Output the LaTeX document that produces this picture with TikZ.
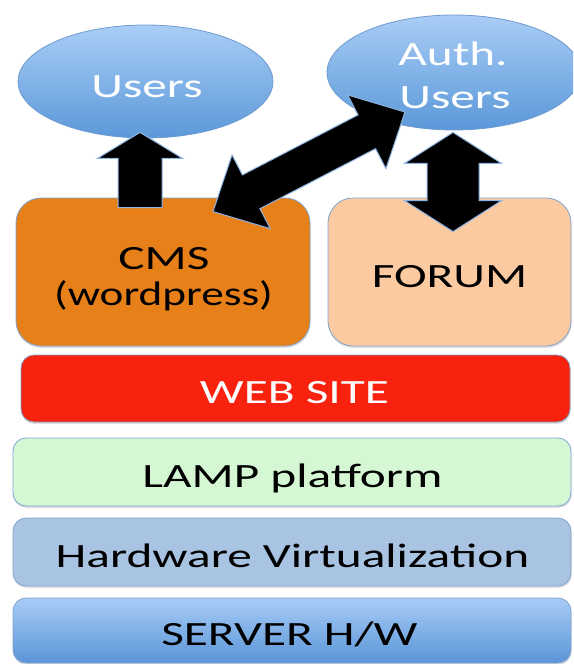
\documentclass[tikz,border=0pt]{standalone}
\usepackage{fontspec}
\usepackage{graphicx}
\setmainfont{Carlito}
\usetikzlibrary{shapes.geometric,calc,shadows}
\definecolor{ellTop}{HTML}{A9CDF6}
\definecolor{ellBot}{HTML}{5B98D9}
\definecolor{ellLine}{HTML}{6E9BD0}
\definecolor{boxLine}{HTML}{7FA3CE}
\definecolor{cmsFill}{HTML}{E8801A}
\definecolor{forumFill}{HTML}{FBCAA0}
\definecolor{webFill}{HTML}{F8220F}
\definecolor{lampFill}{HTML}{D5F7D3}
\definecolor{hwFill}{HTML}{A9C3E2}
\definecolor{srvTop}{HTML}{A8CCF7}
\definecolor{srvBot}{HTML}{5A95D7}
\definecolor{arrowLine}{HTML}{8DB4E2}
\newcommand{\sx}[1]{\scalebox{1.45}[1]{#1}}
% single block arrow: #1 tail, #2 tip, #3 head length, #4 head half width, #5 shaft half width
\newcommand{\singleblockarrow}[5]{%
  \coordinate (#2-hb) at ($(#2)!#3!(#1)$);
  \filldraw[blockarrow] (#2) -- ($(#2-hb)!#4!90:(#2)$) -- ($(#2-hb)!#5!90:(#2)$)
    -- ($(#1)!#5!90:(#2)$) -- ($(#1)!#5!-90:(#2)$) -- ($(#2-hb)!#5!-90:(#2)$)
    -- ($(#2-hb)!#4!-90:(#2)$) -- cycle;}
% double block arrow: #1 end A, #2 end B
\newcommand{\doubleblockarrow}[5]{%
  \coordinate (#1-hb) at ($(#1)!#3!(#2)$);
  \coordinate (#2-hb) at ($(#2)!#3!(#1)$);
  \filldraw[blockarrow] (#2) -- ($(#2-hb)!#4!90:(#2)$) -- ($(#2-hb)!#5!90:(#2)$)
    -- ($(#1-hb)!#5!90:(#2)$) -- ($(#1-hb)!#4!90:(#2)$) -- (#1)
    -- ($(#1-hb)!#4!-90:(#2)$) -- ($(#1-hb)!#5!-90:(#2)$) -- ($(#2-hb)!#5!-90:(#2)$)
    -- ($(#2-hb)!#4!-90:(#2)$) -- cycle;}

\begin{document}
\begin{tikzpicture}[x=1pt,y=-1pt,
  ell/.style={ellipse, draw=ellLine, line width=0.8pt, top color=ellTop, bottom color=ellBot, inner sep=0pt},
  box/.style={rectangle, draw=boxLine, line width=0.8pt, inner sep=0pt,
    drop shadow={opacity=0.25, shadow xshift=0.5pt, shadow yshift=-2pt}},
  bigbox/.style={box, rounded corners=25pt, minimum height=148pt},
  layer/.style={box, rounded corners=13pt, minimum width=558pt},
  txt/.style={anchor=base, inner sep=0pt, font=\fontsize{34}{40}\selectfont},
  blockarrow/.style={fill=black, draw=arrowLine, line width=1pt, line join=miter}]

\useasboundingbox (0,0) rectangle (573,664);
\clip (0,0) rectangle (573,664);

% ellipses
\node[ell, minimum width=255pt, minimum height=113pt] (users) at (145.5,81.5) {};
\node[ell, minimum width=254pt, minimum height=115pt] (auth) at (454,72.5) {};

% boxes
\node[bigbox, fill=cmsFill, minimum width=294pt] (cms) at (163,272) {};
\node[bigbox, fill=forumFill, minimum width=243pt] (forum) at (449.5,272) {};
\node[box, rounded corners=13pt, fill=webFill, minimum width=549pt, minimum height=67pt] (web) at (295.5,388.5) {};
\node[layer, fill=lampFill, minimum height=68pt] (lamp) at (292,472) {};
\node[layer, fill=hwFill, minimum height=68pt] (hw) at (292,552) {};
\node[layer, top color=srvTop, bottom color=srvBot, minimum height=65pt] (server) at (292,630.5) {};

% arrow end points
\coordinate (upTail) at ($(cms.north)+(-23,10)$);
\coordinate (upTip) at ($(users.south)+(-5.5,-6)$);
\coordinate (diagA) at ($(cms.north)+(50,14)$);
\coordinate (diagB) at ($(auth.center)+(-49,39.5)$);
\coordinate (vertA) at ($(auth.south)+(-1,2)$);
\coordinate (vertB) at ($(forum.north)+(3.5,34)$);

\singleblockarrow{upTail}{upTip}{26pt}{42.5pt}{22pt}
\doubleblockarrow{diagA}{diagB}{43pt}{41.5pt}{19pt}
\doubleblockarrow{vertA}{vertB}{31pt}{48.5pt}{26pt}

% texts
\node[txt, text=white] (tUsers) at (147,97) {\sx{Users}};
\node[txt, text=white] (tAuth) at (453,65) {\sx{Auth.}};
\node[txt, text=white] (tAuthUsers) at (455,108) {\sx{Users}};
\node[txt] (tCms) at (164,269) {\sx{CMS}};
\node[txt] (tWp) at (163.5,305) {\scalebox{1.33}[1]{(wordpress)}};
\node[txt] (tForum) at (449.5,287) {\sx{FORUM}};
\node[txt, text=white] (tWeb) at (294.5,403) {\sx{WEB SITE}};
\node[txt] (tLamp) at (292.5,487) {\sx{LAMP platform}};
\node[txt] (tHw) at (292.5,567) {\sx{Hardware Virtualization}};
\node[txt] (tServer) at (289.5,645) {\sx{SERVER H/W}};
\end{tikzpicture}
\end{document}
